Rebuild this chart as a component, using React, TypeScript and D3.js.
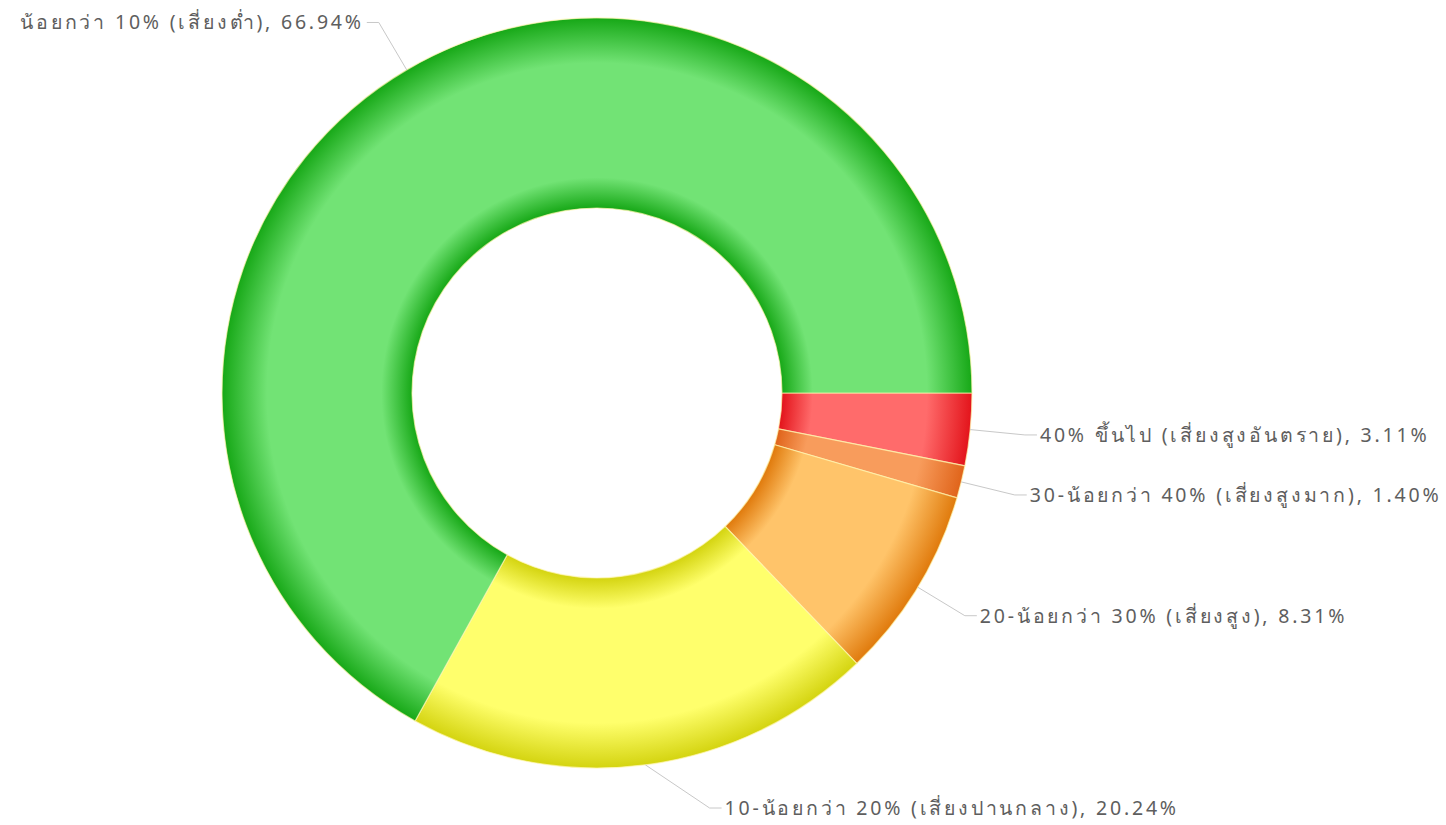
import * as React from "react";
import * as d3 from "d3";

const labels = [
  "40% ขึ้นไป (เสี่ยงสูงอันตราย)",
  "30-น้อยกว่า 40% (เสี่ยงสูงมาก)",
  "20-น้อยกว่า 30% (เสี่ยงสูง)",
  "10-น้อยกว่า 20% (เสี่ยงปานกลาง)",
  "น้อยกว่า 10% (เสี่ยงต่ำ)",
];
const values = [3.11, 1.4, 8.31, 20.24, 66.94];
const lightColors = ["#ff6b6b", "#f89c5c", "#ffc46a", "#ffff6c", "#72e375"];
const darkColors = ["#e3141b", "#e0641a", "#e07a0c", "#d4d410", "#17a817"];

const W = 1446;
const H = 825;
const cx = 597;
const cy = 393;
const outerR = 375;
const innerR = 185;
const labelR = 430;
const maxLabelY = 808;

export default function App() {
  const pie = d3
    .pie<number>()
    .sort(null)
    .startAngle(Math.PI / 2)
    .endAngle(Math.PI / 2 + 2 * Math.PI)(values);
  const arc = d3.arc<d3.PieArcDatum<number>>().innerRadius(innerR).outerRadius(outerR);
  const k = innerR / outerR;

  return (
    <svg width={W} height={H} style={{ position: "absolute", left: 0, top: 0 }}>
      <defs>
        {values.map((_, i) => (
          <radialGradient key={i} id={"g" + i} gradientUnits="userSpaceOnUse" cx={0} cy={0} r={outerR}>
            <stop offset={k} stopColor={darkColors[i]} />
            <stop offset={0.575} stopColor={lightColors[i]} />
            <stop offset={0.88} stopColor={lightColors[i]} />
            <stop offset={1} stopColor={darkColors[i]} />
          </radialGradient>
        ))}
      </defs>
      <g transform={`translate(${cx},${cy})`}>
        {pie.map((d, i) => (
          <path key={i} d={arc(d) || ""} fill={`url(#g${i})`} stroke="#fff6b0" strokeOpacity={0.7} strokeWidth={1.2} />
        ))}
      </g>
      {pie.map((d, i) => {
        const a = (d.startAngle + d.endAngle) / 2;
        const sx = cx + outerR * Math.sin(a);
        const sy = cy - outerR * Math.cos(a);
        let ey = cy - labelR * Math.cos(a);
        let ex = cx + labelR * Math.sin(a);
        if (ey > maxLabelY) {
          ey = maxLabelY;
          const dy = ey - cy;
          ex = cx + Math.sign(Math.sin(a)) * Math.sqrt(labelR * labelR - dy * dy);
        }
        const right = Math.sin(a) >= 0;
        const hx = ex + (right ? 12 : -12);
        return (
          <g key={i}>
            <polyline points={`${sx},${sy} ${ex},${ey} ${hx},${ey}`} fill="none" stroke="#c8c8c8" strokeWidth={1} />
            <text
              x={hx + (right ? 3 : -3)}
              y={ey}
              dy="0.35em"
              textAnchor={right ? "start" : "end"}
              fontFamily="Tahoma, 'Noto Sans', 'DejaVu Sans', sans-serif"
              fontSize={19.5}
              letterSpacing={2.8}
              fill="#5e5e5e"
            >
              {`${labels[i]}, ${values[i].toFixed(2)}%`}
            </text>
          </g>
        );
      })}
    </svg>
  );
}
